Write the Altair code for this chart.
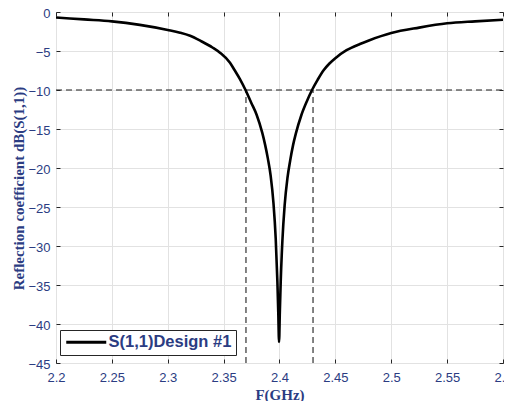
import altair as alt
import pandas as pd

# ---- data ----
freq = [2.20, 2.225, 2.25, 2.275, 2.30, 2.311, 2.32, 2.33, 2.34, 2.347, 2.3557, 2.3596,
        2.3646, 2.3696, 2.3746, 2.3796, 2.3846, 2.3871, 2.3896, 2.3921, 2.3946, 2.3966,
        2.3981, 2.3989, 2.3996,
        2.4003, 2.4011, 2.4026, 2.4046, 2.4071, 2.4096, 2.4121, 2.4146, 2.4196, 2.4246,
        2.4291, 2.4341, 2.4393, 2.4447, 2.4497, 2.46, 2.472, 2.48, 2.50, 2.525, 2.55,
        2.575, 2.60]
s11_db = [-0.7, -0.95, -1.2, -1.65, -2.3, -2.65, -3.05, -3.75, -4.55, -5.25, -6.5, -7.4,
          -8.6, -10.0, -11.6, -13.2, -15.5, -17.0, -18.8, -21.0, -24.5, -29.0,
          -34.5, -38.5, -42.3,
          -38.5, -34.5, -29.3, -24.8, -21.3, -19.0, -17.1, -15.6, -13.2, -11.4,
          -10.0, -8.7, -7.5, -6.6, -5.95, -4.9, -4.1, -3.65, -2.7, -2.0, -1.45,
          -1.2, -1.0]
series_name = "S(1,1)Design #1"
x_ticks = [2.2, 2.25, 2.3, 2.35, 2.4, 2.45, 2.5, 2.55, 2.6]
y_ticks = [-45, -40, -35, -30, -25, -20, -15, -10, -5, 0]
threshold_db = -10
band_edges = [2.37, 2.43]

BLUE = "#2b3c82"
GRID = "#e2e2e2"
FRAME = "#262626"
DASH = "#1f1f1f"

df = pd.DataFrame({"f": freq, "db": s11_db, "series": series_name})
hdf = pd.DataFrame({"x": [x_ticks[0]], "x2": [x_ticks[-1]], "y": [threshold_db]})
vdf = pd.DataFrame({"x": band_edges, "y": [y_ticks[0]] * 2, "y2": [threshold_db] * 2})

x_scale = alt.Scale(domain=[x_ticks[0], x_ticks[-1]], nice=False, zero=False)
y_scale = alt.Scale(domain=[y_ticks[0], y_ticks[-1]], nice=False, zero=False)

# main axes: labels, titles and grid
x_axis = alt.Axis(orient="bottom", values=x_ticks, format="~g", title="F(GHz)", grid=True,
                  gridColor=GRID, domain=False, ticks=False, labelPadding=8,
                  labelFont="Liberation Sans", labelFontSize=13, labelColor=BLUE,
                  labelOverlap=False, labelFlush=False,
                  titleFont="Liberation Serif", titleFontWeight="bold", titleFontSize=15,
                  titleColor=BLUE, titlePadding=3)
y_axis = alt.Axis(orient="left", values=y_ticks, title="Reflection coefficient dB(S(1,1))",
                  grid=True, gridColor=GRID, domain=False, ticks=False, labelPadding=6,
                  labelFont="Liberation Sans", labelFontSize=13, labelColor=BLUE,
                  labelOverlap=False, labelFlush=False, labelOffset=1,
                  titleFont="Liberation Serif", titleFontWeight="bold", titleFontSize=15,
                  titleColor=BLUE, titleX=-30, titleY=176)


def tick_axis(orient, values):
    # inward ticks (MATLAB style): axis pulled 4px inside the frame
    return alt.Axis(orient=orient, values=values, title=None, labels=False, grid=False,
                    domain=False, ticks=True, tickSize=4, tickColor=FRAME, tickWidth=1,
                    offset=-4)


hrule = alt.Chart(hdf).mark_rule(strokeDash=[6, 4], color=DASH, strokeWidth=1.1).encode(
    x=alt.X("x:Q", scale=x_scale, axis=x_axis), x2="x2:Q",
    y=alt.Y("y:Q", scale=y_scale, axis=y_axis))
vrule = alt.Chart(vdf).mark_rule(strokeDash=[6, 4], color=DASH, strokeWidth=1.1).encode(
    x=alt.X("x:Q", scale=x_scale, axis=tick_axis("top", x_ticks)),
    y=alt.Y("y:Q", scale=y_scale, axis=tick_axis("right", y_ticks)), y2="y2:Q")

line = alt.Chart(df).mark_line(strokeWidth=2.6, clip=True, interpolate="monotone").encode(
    x=alt.X("f:Q", scale=x_scale, axis=tick_axis("bottom", x_ticks)),
    y=alt.Y("db:Q", scale=y_scale, axis=tick_axis("left", y_ticks)),
    color=alt.Color("series:N", scale=alt.Scale(range=["black"]),
                    legend=alt.Legend(orient="none", legendX=4, legendY=318, title=None,
                                      symbolType="M-10,0H10", symbolStrokeWidth=3,
                                      symbolSize=16, symbolOffset=14,
                                      labelFont="Liberation Sans",
                                      labelFontWeight="bold", labelFontSize=16.5,
                                      labelColor=BLUE, strokeColor=FRAME, fillColor="white",
                                      padding=4, labelOffset=14)))

chart = alt.layer(hrule, vrule, line).resolve_axis(
    x="independent", y="independent"
).properties(
    width=447, height=351,
    autosize=alt.AutoSizeParams(type="none"),
    padding={"left": 48, "top": 4, "right": 1, "bottom": 38},
    background="white",
).configure_view(stroke=FRAME, strokeWidth=1)

chart.save("out.html", embed_options={"renderer": "svg", "actions": False})
